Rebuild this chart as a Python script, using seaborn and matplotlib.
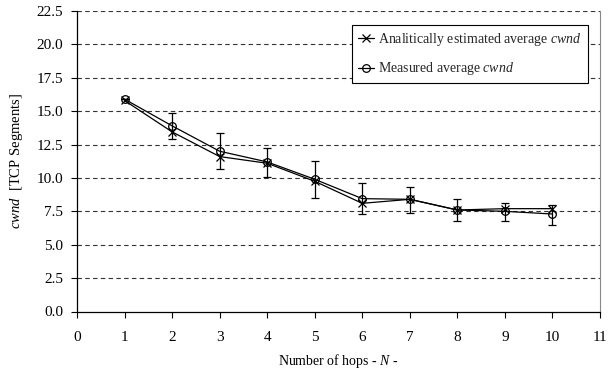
import matplotlib
matplotlib.use("Agg")
import matplotlib.pyplot as plt
import seaborn as sns
import pandas as pd
import numpy as np

hops = [1, 2, 3, 4, 5, 6, 7, 8, 9, 10]
analytic = [15.8, 13.45, 11.6, 11.1, 9.75, 8.1, 8.4, 7.6, 7.7, 7.7]
measured = [15.9, 13.9, 12.0, 11.2, 9.9, 8.45, 8.4, 7.6, 7.5, 7.3]
err_low = [15.9, 12.9, 10.7, 10.1, 8.5, 7.3, 7.4, 6.8, 6.8, 6.45]
err_high = [15.9, 14.9, 13.4, 12.25, 11.3, 9.6, 9.3, 8.4, 8.1, 7.95]
xticks = list(range(0, 12))
yticks = [0.0, 2.5, 5.0, 7.5, 10.0, 12.5, 15.0, 17.5, 20.0, 22.5]

sns.set_theme(style="white")
plt.rcParams['font.family'] = ['Liberation Serif', 'DejaVu Serif']
plt.rcParams['mathtext.fontset'] = 'custom'
plt.rcParams['mathtext.rm'] = 'Liberation Serif'
plt.rcParams['mathtext.it'] = 'Liberation Serif:italic'

df_a = pd.DataFrame({"hops": hops, "cwnd": analytic})
df_m = pd.DataFrame({"hops": hops, "cwnd": measured})

fig = plt.figure(figsize=(6.08, 3.76), dpi=100)
ax = fig.add_axes([77/608, (376-311.5)/376, 523/608, 300.5/376])

for y in yticks[1:]:
    ax.axhline(y, color='#333333', lw=0.8, ls=(0, (4, 3)), zorder=0)

m = np.array(measured)
yerr = [m - np.array(err_low), np.array(err_high) - m]
ax.errorbar(hops, measured, yerr=yerr, fmt='none', ecolor='black', elinewidth=0.9,
            capsize=3, capthick=0.9, zorder=2)

sns.lineplot(data=df_a, x="hops", y="cwnd", ax=ax, color='black', lw=0.9,
             marker='x', markersize=5.5, markeredgewidth=0.9, markeredgecolor='black',
             label=r"Analitically estimated average $\it{cwnd}$", zorder=3)
sns.lineplot(data=df_m, x="hops", y="cwnd", ax=ax, color='black', lw=0.9,
             marker='o', markersize=5.5, markerfacecolor='none', markeredgewidth=0.9,
             markeredgecolor='black', label=r"Measured average $\it{cwnd}$", zorder=3)

ax.set_xlim(0, 11)
ax.set_ylim(0, 22.5)
ax.set_xticks(xticks)
ax.set_xticklabels([str(t) for t in xticks])
ax.set_yticks(yticks)
ax.set_yticklabels([f"{t:.1f}" for t in yticks])
ax.tick_params(axis='both', labelsize=11, colors='black', length=4, width=0.8, direction='out')
ax.tick_params(axis='x', pad=10, bottom=True)
ax.tick_params(axis='y', pad=6, left=True)

for s in ['left', 'bottom']:
    ax.spines[s].set_color('black')
    ax.spines[s].set_linewidth(0.9)
ax.spines['top'].set_visible(False)
ax.spines['right'].set_color('#888888')
ax.spines['right'].set_linewidth(0.8)

ax.set_xlabel(r"Number of hops - $\it{N}$ -", fontsize=10, color='black', labelpad=6)
ax.set_ylabel(r"$\it{cwnd}$  [TCP Segments]", fontsize=10.5, color='black', labelpad=8)

leg = ax.legend(loc='upper left', bbox_to_anchor=(0.526, 0.952), fontsize=10,
                frameon=True, fancybox=False, edgecolor='black', framealpha=1,
                handlelength=1.2, handletextpad=0.3, borderpad=0.4, labelspacing=0.9,
                borderaxespad=0)
leg.get_frame().set_linewidth(0.8)

fig.savefig("out.png", dpi=100)
